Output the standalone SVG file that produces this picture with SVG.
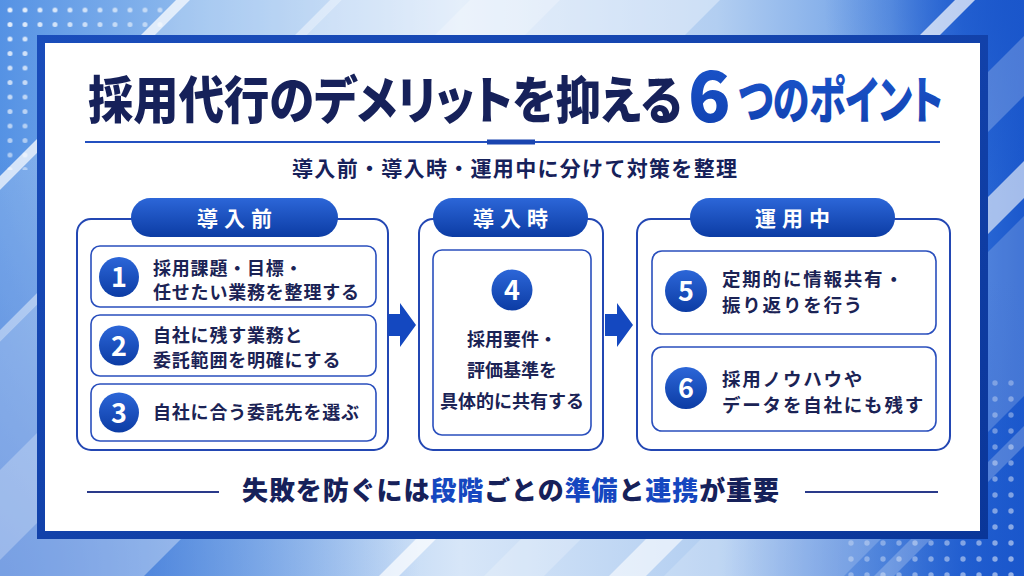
<svg xmlns="http://www.w3.org/2000/svg" width="1024" height="576" viewBox="0 0 1024 576">
<defs>
  <linearGradient id="bg" x1="0" y1="0" x2="1" y2="0">
    <stop offset="0" stop-color="#5592e4"/>
    <stop offset="0.2" stop-color="#93bdee"/>
    <stop offset="0.45" stop-color="#d7e6f8"/>
    <stop offset="0.7" stop-color="#b2cef1"/>
    <stop offset="0.87" stop-color="#6d9fe6"/>
    <stop offset="0.94" stop-color="#2f6dd8"/>
    <stop offset="1" stop-color="#1b58cc"/>
  </linearGradient>
  <radialGradient id="bl" cx="0" cy="576" r="420" gradientUnits="userSpaceOnUse">
    <stop offset="0" stop-color="#2a66d2" stop-opacity="0.85"/>
    <stop offset="1" stop-color="#2a66d2" stop-opacity="0"/>
  </radialGradient>
  <radialGradient id="br" cx="1024" cy="576" r="300" gradientUnits="userSpaceOnUse">
    <stop offset="0" stop-color="#1a56cb" stop-opacity="0.8"/>
    <stop offset="1" stop-color="#1a56cb" stop-opacity="0"/>
  </radialGradient>
  <radialGradient id="tr" cx="1024" cy="0" r="200" gradientUnits="userSpaceOnUse">
    <stop offset="0" stop-color="#1a56cb" stop-opacity="0.9"/>
    <stop offset="1" stop-color="#1a56cb" stop-opacity="0"/>
  </radialGradient>
  <linearGradient id="frameG" x1="0" y1="0" x2="1" y2="1">
    <stop offset="0" stop-color="#1a4dbb"/>
    <stop offset="1" stop-color="#0a3699"/>
  </linearGradient>
  <linearGradient id="blueG" x1="0" y1="0" x2="0" y2="1">
    <stop offset="0" stop-color="#2c66d8"/>
    <stop offset="1" stop-color="#0c3ca4"/>
  </linearGradient>
  <linearGradient id="accG" x1="0" y1="0" x2="0" y2="1">
    <stop offset="0" stop-color="#1d58d0"/>
    <stop offset="1" stop-color="#0f3fad"/>
  </linearGradient>
  <pattern id="dotsTL" x="2.5" y="2.75" width="15" height="14.5" patternUnits="userSpaceOnUse">
    <circle cx="7.5" cy="7.25" r="2.5" fill="#ffffff"/>
  </pattern>
  <pattern id="dotsBR" x="987" y="375" width="16" height="16" patternUnits="userSpaceOnUse">
    <circle cx="8" cy="8" r="2.7" fill="#ffffff"/>
  </pattern>
  <linearGradient id="fadeTL" x1="0" y1="0" x2="1" y2="1">
    <stop offset="0" stop-color="#fff" stop-opacity="0.9"/>
    <stop offset="1" stop-color="#fff" stop-opacity="0.1"/>
  </linearGradient>
  <linearGradient id="fadeBR" x1="1" y1="1" x2="0" y2="0">
    <stop offset="0" stop-color="#fff" stop-opacity="0.55"/>
    <stop offset="1" stop-color="#fff" stop-opacity="0.1"/>
  </linearGradient>
  <mask id="mTL"><rect x="0" y="0" width="170" height="170" fill="url(#fadeTL)"/></mask>
  <mask id="mBR"><rect x="845" y="375" width="179" height="201" fill="url(#fadeBR)"/></mask>
  <style>
    .jp { font-family: "Noto Sans CJK JP", "Noto Sans CJK SC", sans-serif; }
    .navy { fill: #16215a; }
    .acc { fill: #1547c0; }
    .panel { fill: #ffffff; stroke: #2347b3; stroke-width: 2; }
    .box { fill: #ffffff; stroke: #2a4fbd; stroke-width: 1.6; }
    .pill { fill: url(#blueG); }
    .pilltxt { font-size: 21px; font-weight: 700; fill: #ffffff; letter-spacing: 6px; text-anchor: middle; }
    .num { fill: url(#blueG); }
    .numtxt { font-size: 27px; font-weight: 700; fill: #ffffff; text-anchor: middle; }
    .item { font-size: 18px; font-weight: 700; fill: #1b2355; letter-spacing: 0.8px; }
    .itemR { font-size: 18.5px; font-weight: 700; fill: #1b2355; letter-spacing: 1.8px; }
    .mid { font-size: 18px; font-weight: 700; fill: #1b2355; text-anchor: middle; }
    .arrow { fill: #1448c0; }
  </style>
</defs>

<!-- background -->
<rect x="0" y="0" width="1024" height="576" fill="url(#bg)"/>
<rect x="0" y="0" width="1024" height="576" fill="url(#bl)"/>
<rect x="0" y="0" width="1024" height="576" fill="url(#br)"/>
<rect x="0" y="0" width="1024" height="576" fill="url(#tr)"/>
<g fill="#ffffff">
  <polygon points="176,0 190,0 -386,576 -400,576" opacity="0.75"/>
  <polygon points="190,0 330,0 -246,576 -386,576" opacity="0.2"/>
  <polygon points="330,0 342,0 -234,576 -246,576" opacity="0.55"/>
  <polygon points="342,0 720,0 144,576 -234,576" opacity="0.35"/>
  <polygon points="470,0 560,0 -16,576 -106,576" opacity="0.25"/>
  <polygon points="955,0 975,0 399,576 379,576" opacity="0.7"/>
  <polygon points="1060,0 1120,0 544,576 484,576" opacity="0.22"/>
  <polygon points="1185,0 1222,0 646,576 609,576" opacity="0.6"/>
  <polygon points="1240,0 1420,0 844,576 664,576" opacity="0.18"/>
  <polygon points="1450,0 1470,0 894,576 874,576" opacity="0.22"/>
</g>
<rect x="0" y="0" width="170" height="170" fill="url(#dotsTL)" mask="url(#mTL)"/>
<rect x="845" y="375" width="179" height="201" fill="url(#dotsBR)" mask="url(#mBR)"/>

<!-- frame -->
<g id="frame">
  <rect x="37" y="35" width="951" height="504" fill="url(#frameG)"/>
  <rect x="45" y="43" width="935" height="488" fill="#ffffff"/>
</g>

<!-- title -->
<g id="title" class="jp" style="font-feature-settings: 'palt';">
  <text x="88" y="119" font-size="51" font-weight="900" class="navy" textLength="594" lengthAdjust="spacingAndGlyphs">採用代行のデメリットを抑える</text>
  <text x="688" y="122" font-size="70" font-weight="900" fill="url(#accG)">6</text>
  <text x="738" y="119" font-size="51" font-weight="900" fill="url(#accG)" textLength="205" lengthAdjust="spacingAndGlyphs">つのポイント</text>
  <line x1="85" y1="142" x2="940" y2="142" stroke="#2350c0" stroke-width="2"/>
  <rect x="487" y="139.5" width="48" height="5" fill="#1a45b0"/>
</g>

<g id="subtitle" class="jp">
  <text x="292" y="176" font-size="21" font-weight="700" class="navy" textLength="445">導入前・導入時・運用中に分けて対策を整理</text>
</g>

<!-- panel: before -->
<g id="panel-before" class="jp">
  <rect class="panel" x="77" y="219" width="311" height="231" rx="14"/>
  <rect class="pill" x="131" y="198" width="207" height="39" rx="19.5"/>
  <text class="pilltxt" x="237.5" y="226">導入前</text>
</g>
<g id="item-1" class="jp">
  <rect class="box" x="91" y="246" width="285" height="61" rx="9"/>
  <circle class="num" cx="119" cy="277" r="20"/>
  <text class="numtxt" x="119" y="287">1</text>
  <text class="item" x="153" y="275">採用課題・目標・</text>
  <text class="item" x="153" y="299">任せたい業務を整理する</text>
</g>
<g id="item-2" class="jp">
  <rect class="box" x="91" y="315" width="285" height="61" rx="9"/>
  <circle class="num" cx="119" cy="345.5" r="20"/>
  <text class="numtxt" x="119" y="355.5">2</text>
  <text class="item" x="153" y="342">自社に残す業務と</text>
  <text class="item" x="153" y="367">委託範囲を明確にする</text>
</g>
<g id="item-3" class="jp">
  <rect class="box" x="91" y="384" width="285" height="57" rx="9"/>
  <circle class="num" cx="119" cy="412.5" r="20"/>
  <text class="numtxt" x="119" y="422.5">3</text>
  <text class="item" x="153" y="419">自社に合う委託先を選ぶ</text>
</g>

<!-- panel: during -->
<g id="panel-during" class="jp">
  <rect class="panel" x="419" y="219" width="184" height="231" rx="14"/>
  <rect class="pill" x="433" y="198" width="155" height="39" rx="19.5"/>
  <text class="pilltxt" x="513.5" y="226">導入時</text>
</g>
<g id="item-4" class="jp">
  <rect class="box" x="433" y="250" width="158" height="185" rx="9"/>
  <circle class="num" cx="512" cy="290" r="20.5"/>
  <text class="numtxt" x="512" y="300">4</text>
  <text class="mid" x="512" y="346">採用要件・</text>
  <text class="mid" x="512" y="377">評価基準を</text>
  <text class="mid" x="512" y="408">具体的に共有する</text>
</g>

<!-- panel: operation -->
<g id="panel-operation" class="jp">
  <rect class="panel" x="637" y="219" width="313" height="231" rx="14"/>
  <rect class="pill" x="690" y="198" width="205" height="39" rx="19.5"/>
  <text class="pilltxt" x="795.5" y="226">運用中</text>
</g>
<g id="item-5" class="jp">
  <rect class="box" x="652" y="251" width="284" height="83" rx="10"/>
  <circle class="num" cx="686" cy="291" r="21"/>
  <text class="numtxt" x="686" y="301">5</text>
  <text class="itemR" x="722" y="286">定期的に情報共有・</text>
  <text class="itemR" x="722" y="312">振り返りを行う</text>
</g>
<g id="item-6" class="jp">
  <rect class="box" x="652" y="347" width="284" height="84" rx="10"/>
  <circle class="num" cx="686" cy="388" r="21"/>
  <text class="numtxt" x="686" y="398">6</text>
  <text class="itemR" x="722" y="386">採用ノウハウや</text>
  <text class="itemR" x="722" y="412">データを自社にも残す</text>
</g>

<!-- connectors -->
<g id="connectors">
  <polygon class="arrow" points="388,314 400,314 400,303 416,325 400,347 400,336 388,336"/>
  <polygon class="arrow" points="605,314 617,314 617,303 633,325 617,347 617,336 605,336"/>
</g>

<!-- footer -->
<g id="footer" class="jp">
  <line x1="87" y1="492" x2="219" y2="492" stroke="#2a3a8a" stroke-width="2"/>
  <line x1="805" y1="492" x2="938" y2="492" stroke="#2a3a8a" stroke-width="2"/>
  <text x="242" y="500" font-size="26" font-weight="900" class="navy" textLength="537">失敗を防ぐには<tspan class="acc">段階</tspan>ごとの<tspan class="acc">準備</tspan>と<tspan class="acc">連携</tspan>が重要</text>
</g>
</svg>
